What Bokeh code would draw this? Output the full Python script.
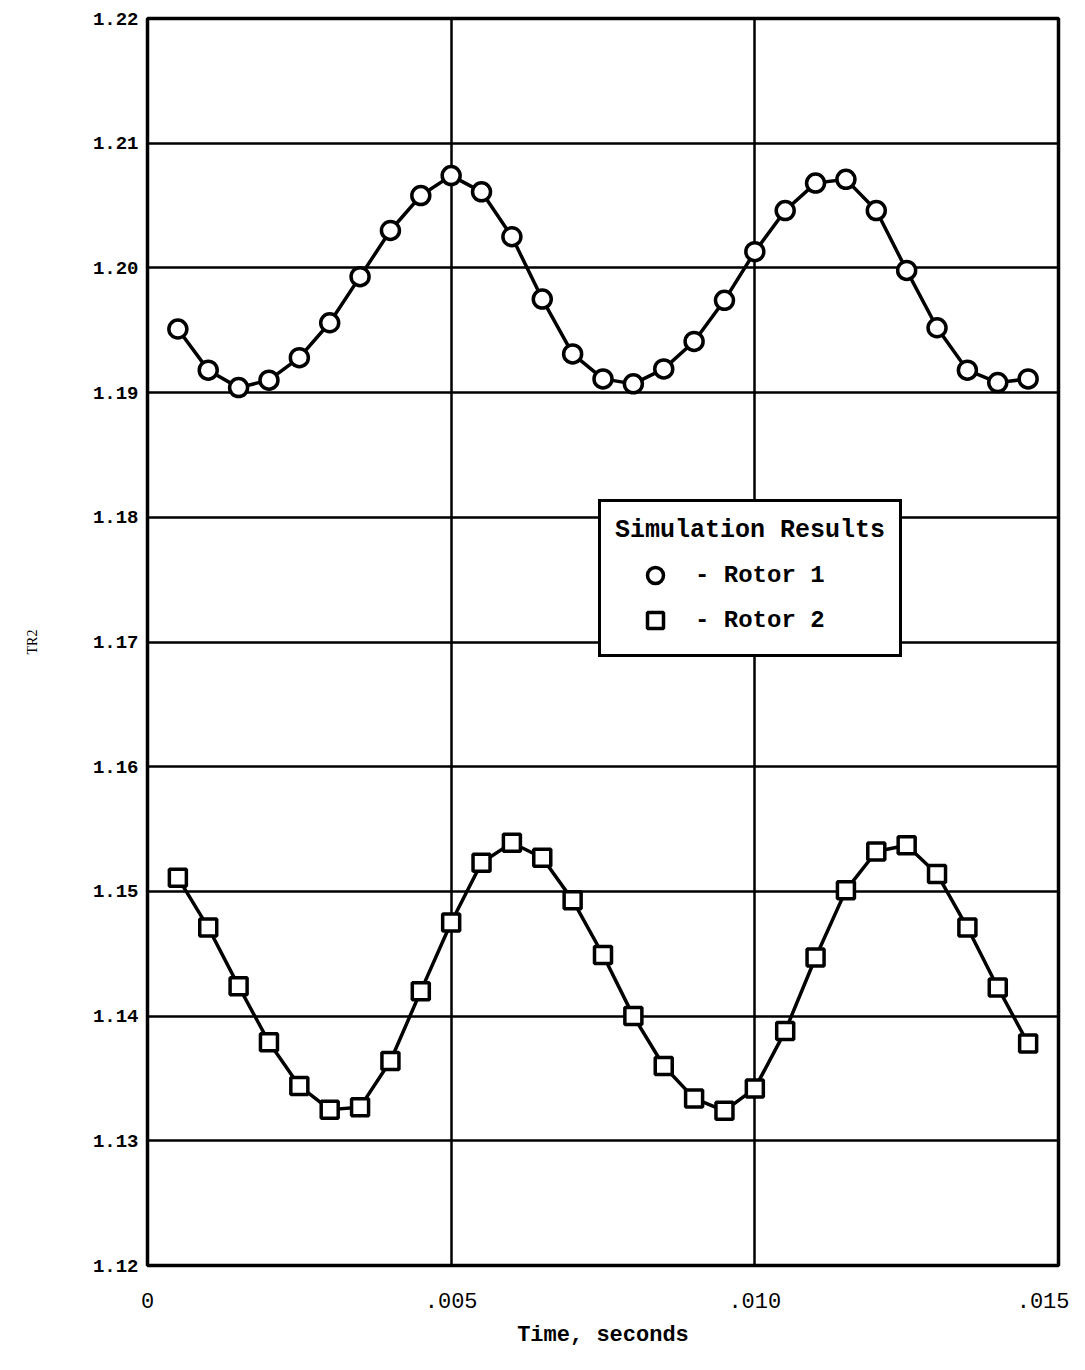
from bokeh.plotting import figure
from bokeh.models import (Range1d, FixedTicker, PrintfTickFormatter, CustomJSTickFormatter,
                          Legend, LegendItem)
from bokeh.embed import file_html
from bokeh.resources import INLINE

# ---- data ----
time_s = [0.0005, 0.0010, 0.0015, 0.0020, 0.0025, 0.0030, 0.0035, 0.0040, 0.0045, 0.0050,
          0.0055, 0.0060, 0.0065, 0.0070, 0.0075, 0.0080, 0.0085, 0.0090, 0.0095, 0.0100,
          0.0105, 0.0110, 0.0115, 0.0120, 0.0125, 0.0130, 0.0135, 0.0140, 0.0145]
rotor1 = [1.1951, 1.1918, 1.1904, 1.1910, 1.1928, 1.1956, 1.1993, 1.2030, 1.2058, 1.2074,
          1.2061, 1.2025, 1.1975, 1.1931, 1.1911, 1.1907, 1.1919, 1.1941, 1.1974, 1.2013,
          1.2046, 1.2068, 1.2071, 1.2046, 1.1998, 1.1952, 1.1918, 1.1908, 1.1911]
rotor2 = [1.1511, 1.1471, 1.1424, 1.1379, 1.1344, 1.1325, 1.1327, 1.1364, 1.1420, 1.1475,
          1.1523, 1.1539, 1.1527, 1.1493, 1.1449, 1.1400, 1.1360, 1.1334, 1.1324, 1.1342,
          1.1388, 1.1447, 1.1501, 1.1532, 1.1537, 1.1514, 1.1471, 1.1423, 1.1378]
x_ticks = [0.0, 0.005, 0.010, 0.015]
y_ticks = [1.12, 1.13, 1.14, 1.15, 1.16, 1.17, 1.18, 1.19, 1.20, 1.21, 1.22]
x_label = "Time, seconds"
y_label = "TR2"
legend_title = "Simulation Results"
series_labels = ["- Rotor 1", "- Rotor 2"]

MONO = "Liberation Mono"

p = figure(width=1069, height=1354, output_backend="svg", toolbar_location=None,
           x_range=Range1d(0, 0.015), y_range=Range1d(1.12, 1.22),
           min_border_left=147, min_border_right=11, min_border_top=18, min_border_bottom=89)
p.background_fill_color = "white"
p.border_fill_color = "white"
p.outline_line_color = "black"
p.outline_line_width = 3.5

# axes
p.xaxis.ticker = FixedTicker(ticks=x_ticks)
p.yaxis.ticker = FixedTicker(ticks=y_ticks)
p.xaxis.formatter = CustomJSTickFormatter(
    code="return tick == 0 ? '0' : tick.toFixed(3).replace(/^0/, '');")
p.yaxis.formatter = PrintfTickFormatter(format="%.2f")
for ax in (p.xaxis, p.yaxis):
    ax.axis_line_color = None
    ax.major_tick_line_color = None
    ax.minor_tick_line_color = None
    ax.major_tick_out = 0
    ax.major_tick_in = 0

p.xaxis.major_label_text_font = MONO
p.xaxis.major_label_text_font_size = "22px"
p.xaxis.major_label_text_color = "black"
p.xaxis.major_label_standoff = 27
p.xaxis.axis_label = x_label
p.xaxis.axis_label_text_font = MONO
p.xaxis.axis_label_text_font_style = "bold"
p.xaxis.axis_label_text_font_size = "22px"
p.xaxis.axis_label_text_color = "black"
p.xaxis.axis_label_standoff = 12

p.yaxis.major_label_text_font = MONO
p.yaxis.major_label_text_font_style = "bold"
p.yaxis.major_label_text_font_size = "19px"
p.yaxis.major_label_text_color = "black"
p.yaxis.major_label_standoff = 9
p.yaxis.axis_label = y_label
p.yaxis.axis_label_text_font = "Liberation Serif"
p.yaxis.axis_label_text_font_style = "normal"
p.yaxis.axis_label_text_font_size = "14px"
p.yaxis.axis_label_text_color = "black"
p.yaxis.axis_label_standoff = 50

# grid
p.xgrid.ticker = FixedTicker(ticks=x_ticks)
p.ygrid.ticker = FixedTicker(ticks=y_ticks)
for g in (p.xgrid, p.ygrid):
    g.grid_line_color = "black"
    g.grid_line_alpha = 1.0
    g.grid_line_width = 2.5

# series
p.line(time_s, rotor1, line_color="black", line_width=3.5)
p.line(time_s, rotor2, line_color="black", line_width=3.5)
r1 = p.scatter(time_s, rotor1, marker="circle", size=18, fill_color="white",
               line_color="black", line_width=3.5)
r2 = p.scatter(time_s, rotor2, marker="square", size=17, fill_color="white",
               line_color="black", line_width=3.5)

legend = Legend(items=[LegendItem(label=series_labels[0], renderers=[r1]),
                       LegendItem(label=series_labels[1], renderers=[r2])],
                location=(451, 608), title=legend_title)
legend.title_text_font = MONO
legend.title_text_font_style = "bold"
legend.title_text_font_size = "25px"
legend.title_text_color = "black"
legend.title_standoff = 10
legend.label_text_font = MONO
legend.label_text_font_style = "bold"
legend.label_text_font_size = "24px"
legend.label_text_color = "black"
legend.glyph_width = 80
legend.glyph_height = 40
legend.label_standoff = 0
legend.spacing = 5
legend.padding = 14
legend.margin = 0
legend.border_line_color = "black"
legend.border_line_alpha = 1.0
legend.border_line_width = 3.5
legend.background_fill_color = "white"
legend.background_fill_alpha = 1.0
p.add_layout(legend, "center")

open("out.html", "w").write(file_html(p, INLINE))
